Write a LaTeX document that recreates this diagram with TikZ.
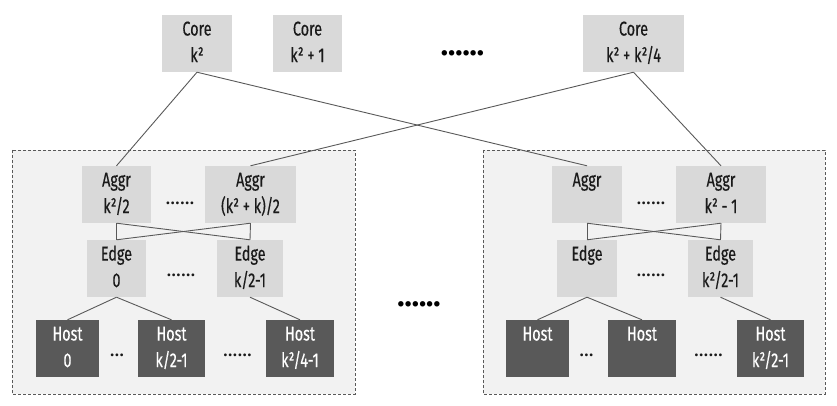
\documentclass[tikz,border=0pt]{standalone}
\usepackage{fontspec}
\setmainfont{Fira Sans}[FakeStretch=0.72, FakeBold=0.4]
\newfontfamily\dotfont{Fira Sans}
\definecolor{nodefill}{HTML}{D9D9D9}
\definecolor{hostfill}{HTML}{595959}
\definecolor{podfill}{HTML}{F2F2F2}
\definecolor{linecol}{HTML}{595959}
\definecolor{txt}{HTML}{1A1A1A}
\tikzset{
  sw/.style={draw=none, fill=nodefill, text=txt, inner sep=0pt, align=center,
    minimum height=57pt, font=\fontsize{20}{26.5}\selectfont},
  hostbox/.style={sw, fill=hostfill, text=white},
  pod/.style={draw=linecol, fill=podfill, dash pattern=on 3pt off 2pt, line width=0.8pt},
  link/.style={draw=linecol, line width=0.9pt},
  bigdots/.style={inner sep=0pt, font=\dotfont\bfseries\fontsize{30}{30}\selectfont, text=black},
  smalldots/.style={inner sep=0pt, font=\dotfont\fontsize{20}{20}\selectfont, text=txt}
}
\begin{document}
\begin{tikzpicture}[x=1pt, y=-1pt]
\useasboundingbox (0,0) rectangle (837,406);
% pods
\path[pod] (12,150) rectangle (355,394);
\path[pod] (483,150) rectangle (825,394);
% core
\node[sw, minimum width=70pt] (core1) at (197,43.5) {\strut Core\\k²\strut};
\node[sw, minimum width=69pt] (core2) at (307.5,43.5) {\strut Core\\k² + 1\strut};
\node[sw, minimum width=101pt] (core3) at (633.5,43.5) {\strut Core\\k² + k²/4\strut};
\node[bigdots] (cdots) at (462.5,53) {......};
% left pod
\node[sw, minimum width=69pt] (aggrL1) at (116.5,194.5) {\strut Aggr\\k²/2\strut};
\node[sw, minimum width=91pt] (aggrL2) at (250.5,194.5) {\strut Aggr\\(k² + k)/2\strut};
\node[smalldots] (adotsL) at (180,203) {......};
\node[sw, minimum width=59pt] (edgeL1) at (116.5,268.5) {\strut Edge\\0\strut};
\node[sw, minimum width=66pt] (edgeL2) at (250,268.5) {\strut Edge\\k/2-1\strut};
\node[smalldots] (edotsL) at (181,275) {......};
\node[hostbox, minimum width=63pt] (hostL1) at (67.5,348.5) {\strut Host\\0\strut};
\node[hostbox, minimum width=67pt] (hostL2) at (171.5,348.5) {\strut Host\\k/2-1\strut};
\node[hostbox, minimum width=68pt] (hostL3) at (300,348.5) {\strut Host\\k²/4-1\strut};
\node[smalldots] (hdotsL1) at (117,355) {...};
\node[smalldots] (hdotsL2) at (237.5,355) {......};
% middle dots
\node[bigdots] (mdots) at (419,304) {......};
% right pod
\node[sw, minimum width=70pt] (aggrR1) at (587,194.5) {\strut Aggr\\\strut};
\node[sw, minimum width=90pt] (aggrR2) at (721,194.5) {\strut Aggr\\k² - 1\strut};
\node[smalldots] (adotsR) at (651,203) {......};
\node[sw, minimum width=60pt] (edgeR1) at (587,268.5) {\strut Edge\\\strut};
\node[sw, minimum width=65pt] (edgeR2) at (720.5,268.5) {\strut Edge\\k²/2-1\strut};
\node[smalldots] (edotsR) at (651,275) {......};
\node[hostbox, minimum width=63pt] (hostR1) at (537.5,348.5) {\strut Host\\\strut};
\node[hostbox, minimum width=68pt] (hostR2) at (642,348.5) {\strut Host\\\strut};
\node[hostbox, minimum width=67pt] (hostR3) at (770.5,348.5) {\strut Host\\k²/2-1\strut};
\node[smalldots] (hdotsR1) at (586.5,355) {...};
\node[smalldots] (hdotsR2) at (708.5,355) {......};
% links core-aggr
\draw[link] (core1.south) -- (aggrL1.north);
\draw[link] (core1.south) -- (aggrR1.north);
\draw[link] (core3.south) -- (aggrL2.north);
\draw[link] (core3.south) -- (aggrR2.north);
% aggr-edge
\draw[link] (aggrL1.south) -- (edgeL1.north);
\draw[link] (aggrL1.south) -- (edgeL2.north);
\draw[link] (aggrL2.south) -- (edgeL1.north);
\draw[link] (aggrL2.south) -- (edgeL2.north);
\draw[link] (aggrR1.south) -- (edgeR1.north);
\draw[link] (aggrR1.south) -- (edgeR2.north);
\draw[link] (aggrR2.south) -- (edgeR1.north);
\draw[link] (aggrR2.south) -- (edgeR2.north);
% edge-host
\draw[link] (edgeL1.south) -- (hostL1.north);
\draw[link] (edgeL1.south) -- (hostL2.north);
\draw[link] (edgeL2.south) -- (hostL3.north);
\draw[link] (edgeR1.south) -- (hostR1.north);
\draw[link] (edgeR1.south) -- (hostR2.north);
\draw[link] (edgeR2.south) -- (hostR3.north);
\end{tikzpicture}
\end{document}
